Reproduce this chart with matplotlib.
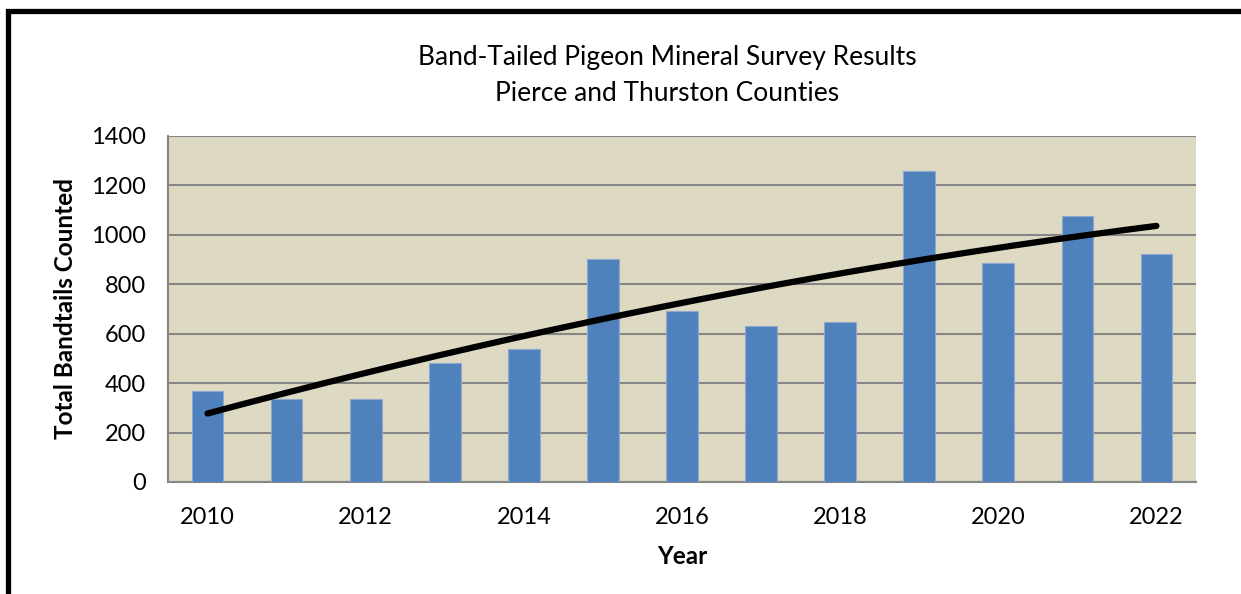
import matplotlib.pyplot as plt
from matplotlib.patches import Rectangle
import numpy as np

plt.rcParams['font.family'] = ['Lato', 'DejaVu Sans']

years = [2010, 2011, 2012, 2013, 2014, 2015, 2016, 2017, 2018, 2019, 2020, 2021, 2022]
counts = [368, 335, 337, 483, 537, 901, 692, 630, 649, 1259, 886, 1075, 924]
yticks = [0, 200, 400, 600, 800, 1000, 1200, 1400]
xlabels = ['2010', '2012', '2014', '2016', '2018', '2020', '2022']

fig = plt.figure(figsize=(12.41, 5.94), dpi=100)
ax = fig.add_axes([0.1354, 0.1886, 0.8283, 0.5825])
ax.set_facecolor('#DDD9C3')

x = np.arange(len(years))
ax.bar(x, counts, width=0.4, color='#4F81BD', edgecolor='#8EA9D0', linewidth=0.8, zorder=3)

# 2nd order polynomial trendline
coef = np.polyfit(x, counts, 2)
xs = np.linspace(x[0], x[-1], 200)
ax.plot(xs, np.polyval(coef, xs), color='black', linewidth=4.5, solid_capstyle='round', zorder=4)

ax.set_xlim(-0.5, len(years) - 0.5)
ax.set_ylim(0, 1400)
ax.set_yticks(yticks)
ax.set_yticklabels([str(v) for v in yticks], fontsize=17)
ax.set_xticks(x[::2])
ax.set_xticklabels(xlabels, fontsize=17)
ax.tick_params(axis='y', length=0, pad=16)
ax.tick_params(axis='x', length=0, pad=18)
ax.yaxis.grid(True, color='#868686', linewidth=1.5, zorder=1)
ax.set_axisbelow(True)

for side in ['top', 'right']:
    ax.spines[side].set_visible(False)
for side in ['left', 'bottom']:
    ax.spines[side].set_color('#868686')
    ax.spines[side].set_linewidth(1.5)

ax.set_xlabel('Year', fontsize=17.5, fontweight='bold', labelpad=12)
ax.set_ylabel('Total Bandtails Counted', fontsize=17.5, fontweight='bold', labelpad=10)

fig.text(0.5375, 0.903, 'Band-Tailed Pigeon Mineral Survey Results', ha='center', va='center', fontsize=19)
fig.text(0.5375, 0.843, 'Pierce and Thurston Counties', ha='center', va='center', fontsize=19)

# chart frame
fig.patches.append(Rectangle((0.0062, -0.1), 1.2, 1.0823, transform=fig.transFigure,
                             fill=False, edgecolor='black', linewidth=3.8, clip_on=False))

fig.savefig('out.png', dpi=100)
